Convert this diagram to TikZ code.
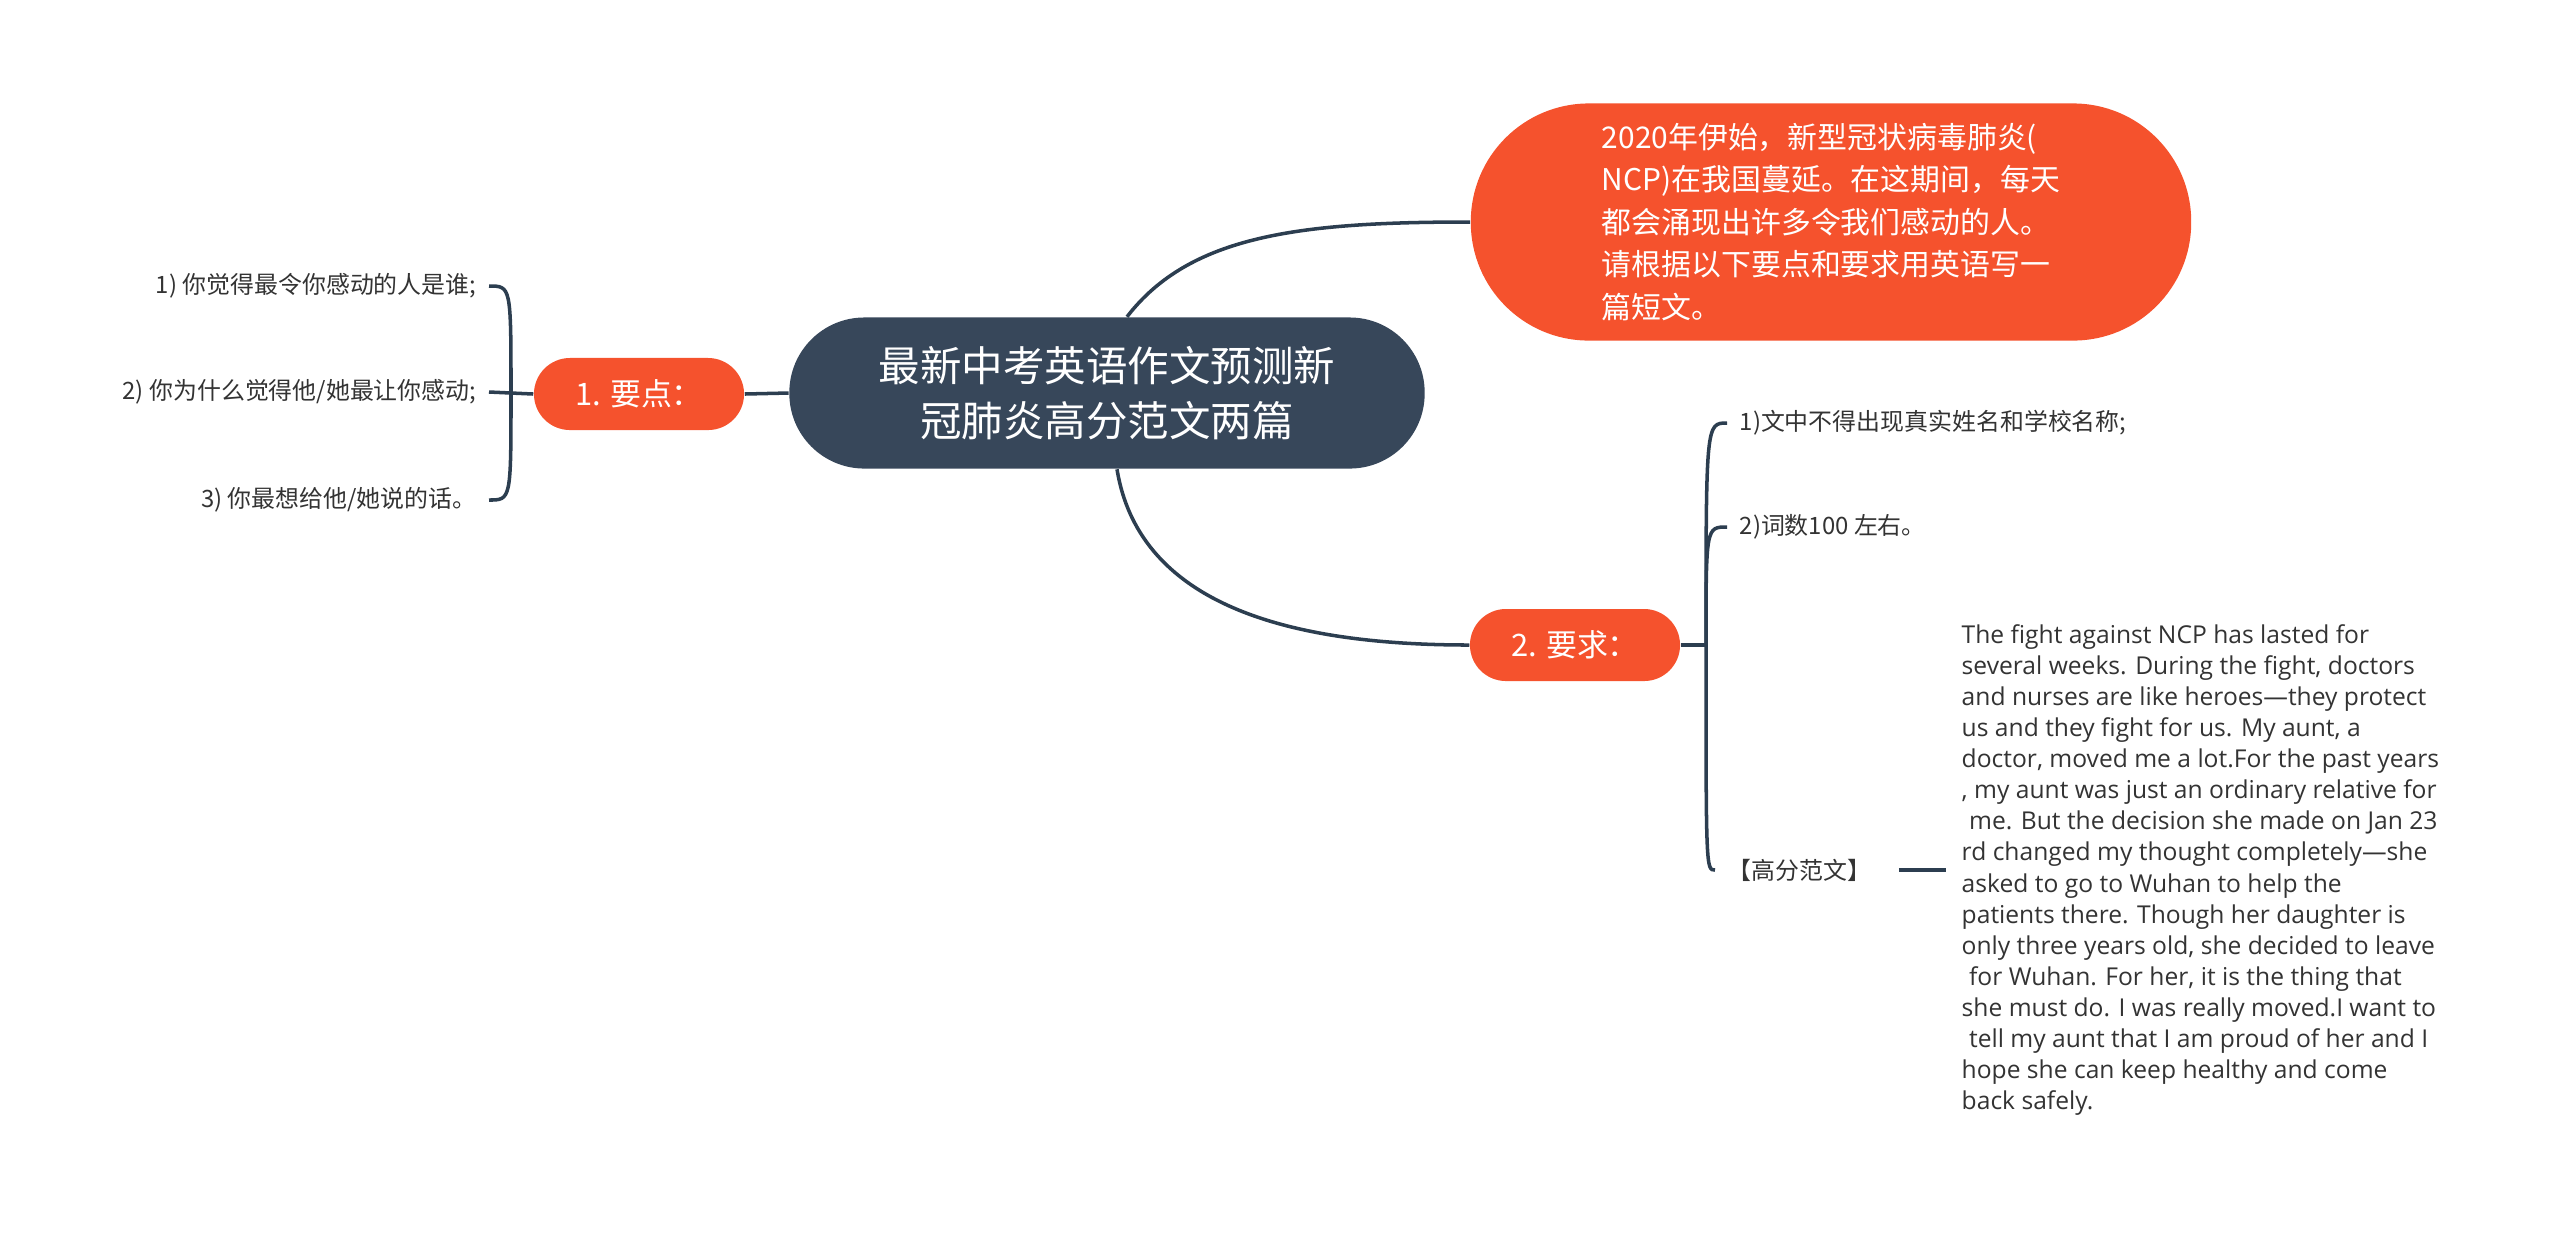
\documentclass[tikz,border=0pt]{standalone}
\usepackage{fontspec}
\setmainfont{Noto Sans CJK SC}
\newfontfamily\essayfont{Open Sans}
\usetikzlibrary{positioning}
\definecolor{rootblue}{HTML}{37475A}
\definecolor{hotorange}{HTML}{F5522D}
\definecolor{linknavy}{HTML}{2C3E50}
\definecolor{leafgray}{HTML}{333333}

\begin{document}
\begin{tikzpicture}[x=0.01cm, y=-0.01cm,
    root/.style={fill=rootblue, text=white, rounded corners=0.75cm, minimum width=6.35cm, minimum height=1.51cm, align=center, font=\fontsize{11.8}{15.8}\selectfont},
    topic/.style={fill=hotorange, text=white, rounded corners=0.36cm, minimum width=2.1cm, minimum height=0.72cm, font=\fontsize{8.8}{10}\selectfont},
    note/.style={fill=hotorange, text=white, rounded corners=1.18cm, minimum width=7.2cm, minimum height=2.37cm, align=left, font=\fontsize{8.5}{12.1}\selectfont},
    leaf/.style={text=leafgray, inner sep=0.12cm, font=\fontsize{6.8}{8}\selectfont},
    essay/.style={text=leafgray, inner sep=0.15cm, align=left, font=\essayfont\fontsize{7}{8.85}\selectfont},
    link/.style={draw=linknavy, line width=1pt},
]
\useasboundingbox (0,0) rectangle (2560,1235);

% Root and main topics
\node[root] (root) at (1107,393) {最新中考英语作文预测新\\冠肺炎高分范文两篇};
\node[note] (intro) at (1831,222) {2020年伊始，新型冠状病毒肺炎(\\NCP)在我国蔓延。在这期间，每天\\都会涌现出许多令我们感动的人。\\请根据以下要点和要求用英语写一\\篇短文。};
\node[topic] (points) at (639,394) {1. 要点：};
\node[topic] (needs) at (1575,645) {2. 要求：};

% Left leaves
\node[leaf, anchor=east] (p1) at (489,286) {1) 你觉得最令你感动的人是谁;};
\node[leaf, anchor=east] (p2) at (489,392) {2) 你为什么觉得他/她最让你感动;};
\node[leaf, anchor=east] (p3) at (489,500) {3) 你最想给他/她说的话。};
\coordinate (jl) at (511,393);

% Right leaves
\node[leaf, anchor=west] (r1) at (1727,423) {1)文中不得出现真实姓名和学校名称;};
\node[leaf, anchor=west] (r2) at (1727,527) {2)词数100 左右。};
\node[leaf, anchor=west] (r3) at (1715,870) {【高分范文】};
\coordinate (jr) at (1706,645);

% Essay
\node[essay, anchor=west] (essay) at (1946,870) {The fight against NCP has lasted for\\several weeks. During the fight, doctors\\and nurses are like heroes—they protect\\us and they fight for us. My aunt, a\\doctor, moved me a lot.For the past years\\, my aunt was just an ordinary relative for\\\hspace*{0.3em}me. But the decision she made on Jan 23\\rd changed my thought completely—she\\asked to go to Wuhan to help the\\patients there. Though her daughter is\\only three years old, she decided to leave\\\hspace*{0.3em}for Wuhan. For her, it is the thing that\\she must do. I was really moved.I want to\\\hspace*{0.3em}tell my aunt that I am proud of her and I\\hope she can keep healthy and come\\back safely.};

% Links
\draw[link] ([xshift=0.2cm]root.north) .. controls (1190,235) and (1300,222) .. (intro.west);
\draw[link] ([xshift=0.1cm]root.south) .. controls (1140,610) and (1300,645) .. (needs.west);
\draw[link] (root.west) -- (points.east);
\draw[link] (points.west) -- (jl);
\draw[link] (jl) .. controls (jl |- p1) .. (p1.east);
\draw[link] (jl) -- (p2.east);
\draw[link] (jl) .. controls (jl |- p3) .. (p3.east);
\draw[link] (needs.east) -- (jr);
\draw[link] (jr) .. controls (jr |- r1) .. (r1.west);
\draw[link] (jr) .. controls (jr |- r2) .. (r2.west);
\draw[link] (jr) .. controls (jr |- r3) .. (r3.west);
\draw[link, line width=1.3pt, shorten <=0.15cm] (r3.east) -- (essay.west);
\end{tikzpicture}
\end{document}
